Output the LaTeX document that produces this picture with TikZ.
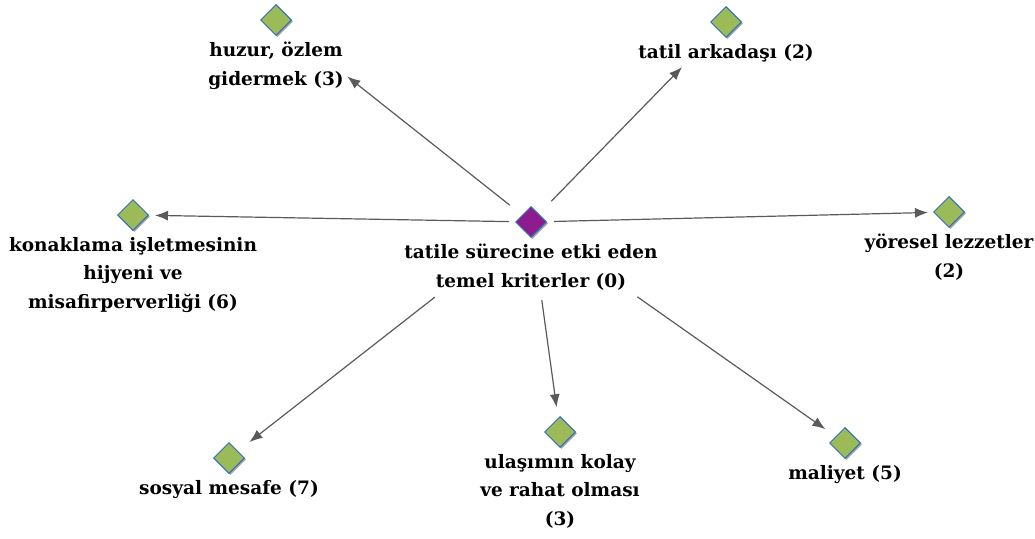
\documentclass[tikz,border=0pt]{standalone}
\usepackage{fontspec}
\setmainfont{DejaVu Serif}
\usetikzlibrary{shapes.geometric, positioning, shadows, arrows.meta}

\definecolor{kodgreen}{HTML}{9BBB59}
\definecolor{kodblue}{HTML}{2F6FB5}
\definecolor{kodpurple}{HTML}{8F1C8F}
\definecolor{okgray}{HTML}{5A5A5A}

\tikzset{
    kod/.style={diamond,
        draw=kodblue,
        line width=1pt,
        fill=kodgreen,
        inner sep=0pt,
        minimum size=31pt,
        drop shadow={shadow xshift=1.5pt, shadow yshift=-1.5pt, fill=black!35, opacity=1}},
    ana/.style={kod, fill=kodpurple},
    etiket/.style={align=center,
        inner sep=0pt,
        font=\bfseries\fontsize{18.5}{28.5}\selectfont},
}

\begin{document}
\begin{tikzpicture}[x=1pt, y=-1pt]

        \useasboundingbox (0,0) rectangle (1035,538);

        % Add the codes
        \node[ana] (merkez) at (531,222) {};
        \node[kod] (huzur) at (276,20) {};
        \node[kod] (tatil) at (726,22) {};
        \node[kod] (konak) at (133,215) {};
        \node[kod] (yores) at (949,212) {};
        \node[kod] (sosyal) at (229,458) {};
        \node[kod] (ulasim) at (560,432) {};
        \node[kod] (maliyet) at (845,443) {};

        % Add the labels
        \node[etiket, below=6pt of merkez] (merkez_l) {tatile sürecine etki eden\\temel kriterler (0)};
        \node[etiket, below=6pt of huzur] (huzur_l) {huzur, özlem\\gidermek (3)};
        \node[etiket, below=6pt of tatil] (tatil_l) {tatil arkadaşı (2)};
        \node[etiket, below=6pt of konak] (konak_l) {konaklama işletmesinin\\hijyeni ve\\misafirperverliği (6)};
        \node[etiket, below=6pt of yores] (yores_l) {yöresel lezzetler\\(2)};
        \node[etiket, below=6pt of sosyal] (sosyal_l) {sosyal mesafe (7)};
        \node[etiket, below=6pt of ulasim] (ulasim_l) {ulaşımın kolay\\ve rahat olması\\(3)};
        \node[etiket, below=6pt of maliyet] (maliyet_l) {maliyet (5)};

        % Connect the codes with arrows
        \draw[line width=1.2pt,
            >={Latex[length=13pt, width=10pt]},
            draw=okgray,
            fill=okgray]
            (merkez.center) edge[->, shorten <=27pt, shorten >=91pt]  (huzur.center)
            (merkez.center) edge[->, shorten <=29pt, shorten >=63pt]  (tatil.center)
            (merkez.center) edge[->, shorten <=22pt, shorten >=22pt]  (konak.center)
            (merkez.center) edge[->, shorten <=23pt, shorten >=21pt]  (yores.center)
            (merkez.center) edge[->, shorten <=122pt, shorten >=26pt] (sosyal.center)
            (merkez.center) edge[->, shorten <=79pt, shorten >=25pt]  (ulasim.center)
            (merkez.center) edge[->, shorten <=130pt, shorten >=24pt] (maliyet.center);
\end{tikzpicture}
\end{document}
